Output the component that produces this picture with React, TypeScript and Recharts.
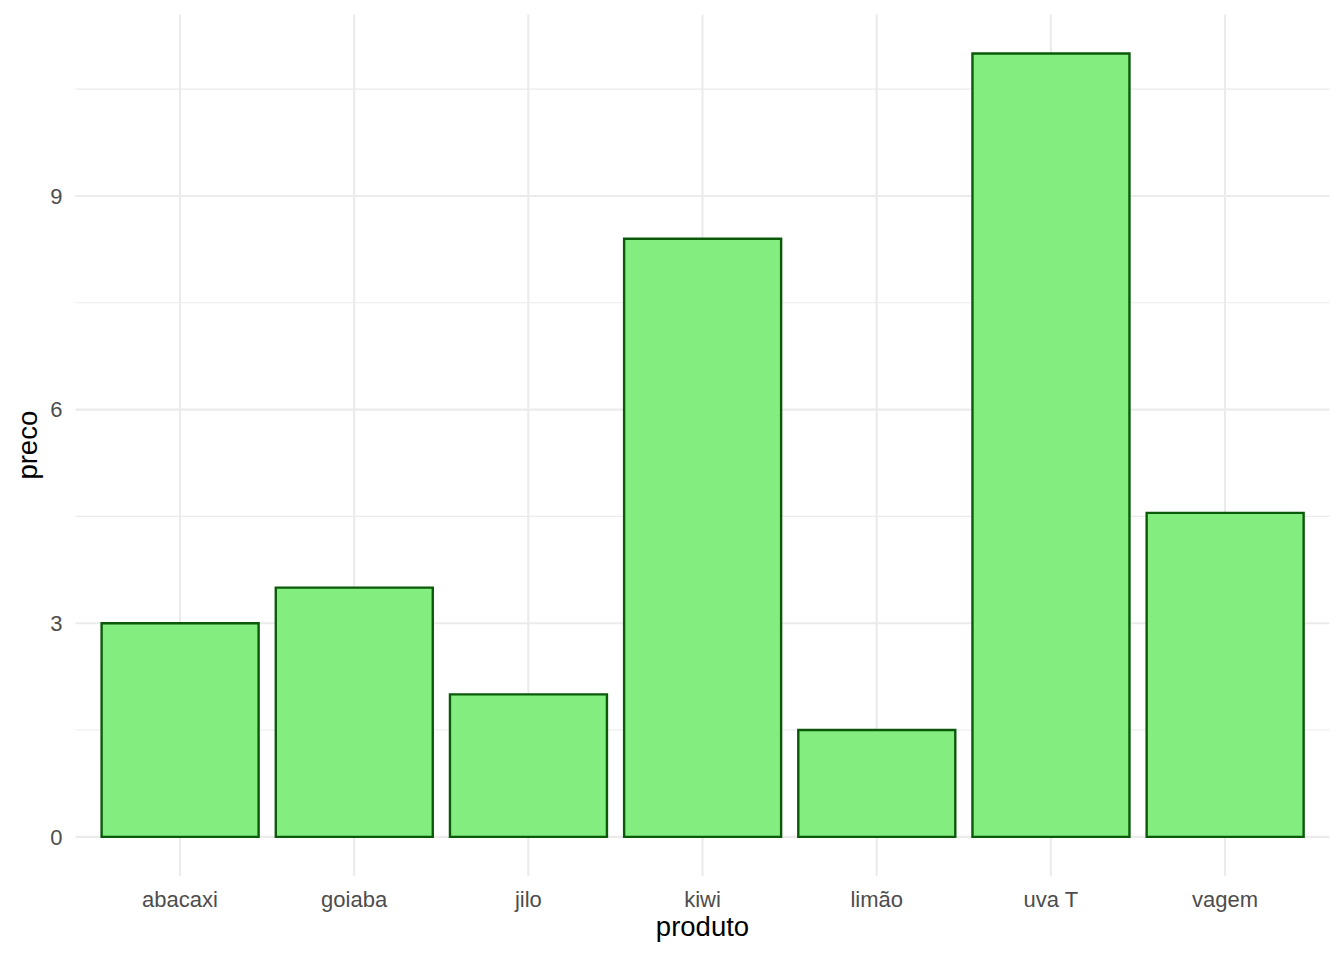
import { BarChart, Bar, XAxis, YAxis, CartesianGrid, Label } from 'recharts';

const produtos = ['abacaxi', 'goiaba', 'jilo', 'kiwi', 'limão', 'uva T', 'vagem'];
const precos = [3.0, 3.5, 2.0, 8.4, 1.5, 11.0, 4.55];
const majorBreaks = [0, 3, 6, 9];
const minorBreaks = [1.5, 4.5, 7.5, 10.5];

const chartData = produtos.map((produto, i) => ({ produto, preco: precos[i] }));

const FONT = '"Liberation Sans", Arial, Helvetica, sans-serif';

const XTitle = (props: any) => {
  const { viewBox } = props;
  const cx = viewBox.x + viewBox.width / 2;
  return (
    <text x={cx} y={936} textAnchor="middle" fontSize={27.5} fill="#000" fontFamily={FONT}>
      produto
    </text>
  );
};

const YTitle = (props: any) => {
  const { viewBox } = props;
  const cx = 37;
  const cy = viewBox.y + viewBox.height / 2;
  return (
    <text
      x={cx}
      y={cy}
      transform={`rotate(-90 ${cx} ${cy})`}
      textAnchor="middle"
      fontSize={27.5}
      fill="#000"
      fontFamily={FONT}
    >
      preco
    </text>
  );
};

export default function App() {
  return (
    <div style={{ position: 'absolute', left: 0, top: 0, width: 1344, height: 960, background: '#fff' }}>
      <BarChart
        width={1344}
        height={960}
        data={chartData}
        margin={{ top: 14.4, right: 14.5, left: 0, bottom: 0 }}
        barCategoryGap="5%"
      >
        <CartesianGrid
          stroke="#EBEBEB"
          strokeWidth={1.1}
          vertical={false}
          horizontalValues={minorBreaks}
          syncWithTicks
        />
        <CartesianGrid
          stroke="#EBEBEB"
          strokeWidth={2.1}
          horizontalValues={majorBreaks}
          syncWithTicks
        />
        <XAxis
          dataKey="produto"
          type="category"
          height={84}
          padding={{ left: 17.4, right: 17.4 }}
          tickLine={false}
          axisLine={false}
          tickSize={0}
          tickMargin={15}
          interval={0}
          tick={{ fill: '#4D4D4D', fontSize: 22, fontFamily: FONT }}
        >
          <Label content={<XTitle />} />
        </XAxis>
        <YAxis
          type="number"
          width={75.5}
          domain={[-0.55, 11.55]}
          ticks={majorBreaks}
          tickLine={false}
          axisLine={false}
          tickSize={0}
          tickMargin={13}
          tick={{ fill: '#4D4D4D', fontSize: 22, fontFamily: FONT }}
        >
          <Label content={<YTitle />} />
        </YAxis>
        <Bar
          dataKey="preco"
          fill="#83ED7F"
          stroke="#0A5A0A"
          strokeWidth={2.4}
          isAnimationActive={false}
        />
      </BarChart>
    </div>
  );
}
